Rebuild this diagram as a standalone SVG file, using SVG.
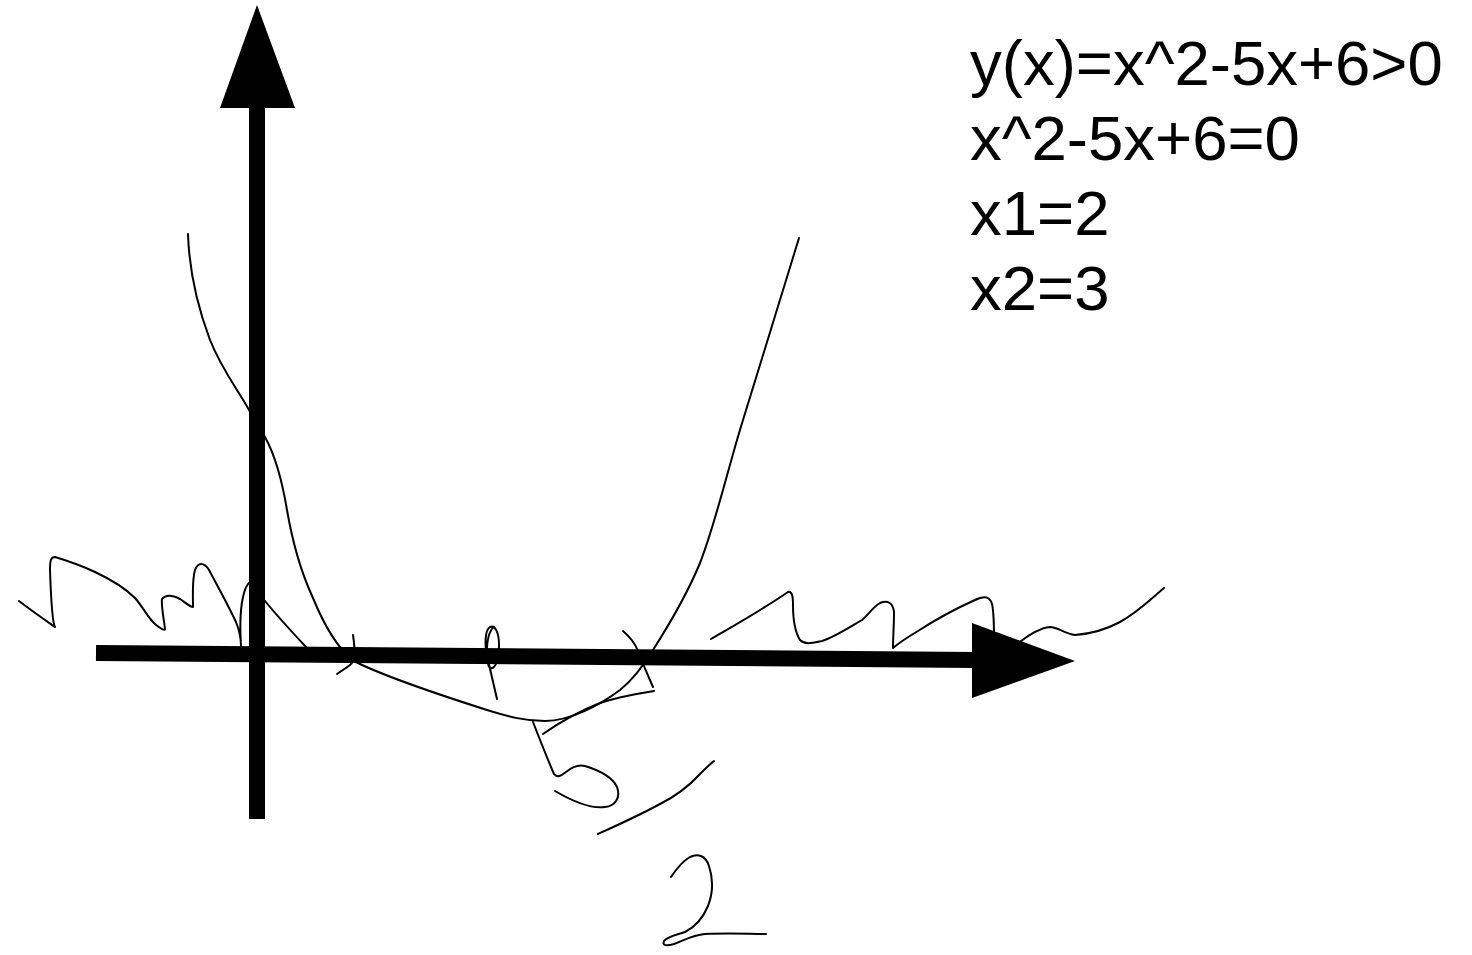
<svg xmlns="http://www.w3.org/2000/svg" width="1472" height="955" viewBox="0 0 1472 955">
<style>
.ink{fill:none;stroke:#000;stroke-width:2;stroke-linecap:round;stroke-linejoin:round}
.axis{stroke:#000;stroke-width:16;fill:none}
.head{fill:#000}
.eq{font-family:"Liberation Sans",Arial,sans-serif;font-size:63.5px;fill:#000}
</style>
<rect width="1472" height="955" fill="#fff"/>
<g id="sketch">
<path id="parabola" class="ink" d="M188,234 C189,265 195,300 210,340 C222,370 238,390 249,410 L265,437 C275,455 282,480 287,510 C293,545 300,570 313,598 C322,620 335,645 352,660 C380,675 440,695 487,710 C510,717 525,721 545,721 C570,721 600,705 620,690 C630,682 642,668 653,650 C667,628 686,597 700,563 C716,522 728,468 743,420 C760,365 780,300 799,238"/>
<path id="squiggle-left" class="ink" d="M19,601 C32,611 45,620 55,627 C52,622 51,600 50,570 C50,560 51,557 55,557 C65,560 80,565 95,572 C112,580 125,588 135,598 C143,607 148,618 155,624 C160,628 164,631 165,629 C164,620 161,605 162,599 C166,594 172,595 180,599 C186,603 190,607 193,607 C193,595 192,580 195,570 C198,562 204,562 209,570 C217,585 228,605 236,622 C240,632 241,640 241,646 C240,630 240,610 243,597 C245,588 247,584 250,582 L265,601 C278,617 292,632 306,647"/>
<path id="squiggle-right" class="ink" d="M711,639 C735,625 765,608 788,592 C792,591 793,596 793,605 C793,618 795,632 800,640 C805,645 812,643 822,641 C835,637 850,627 862,620 C868,615 873,607 880,603 C888,600 893,603 894,612 C894,625 893,638 893,648 C900,642 908,637 918,631 C935,620 955,609 975,600 C985,595 990,597 992,604 C994,612 994,622 994,640 M1016,645 C1027,636 1040,628 1050,627 C1058,627 1065,634 1075,635 C1090,634 1105,630 1120,622 C1138,612 1152,598 1164,588"/>
<path id="tick-x1" class="ink" d="M353,635 C355,648 356,660 350,665 C345,669 341,671 337,674"/>
<path id="tick-mid" class="ink" d="M497,699 C494,686 491,673 488,660 C484,645 485,630 490,627 C495,625 499,632 499,645 C499,660 495,670 490,668 C486,664 486,645 489,635 C491,630 493,627 494,627"/>
<path id="tick-x2" class="ink" d="M623,631 C630,637 635,643 638,651 C643,664 648,676 653,687"/>
<path id="bracket" class="ink" d="M654,691 C635,694 615,698 600,703 C580,711 560,722 543,734"/>
<path id="digit-5" class="ink" d="M533,722 C540,740 547,758 554,774 C557,778 561,776 566,772 C572,767 578,764 585,766 C598,770 612,776 617,787 C621,798 615,806 605,807 C590,809 572,801 555,791"/>
<path id="slash" class="ink" d="M598,834 C620,824 640,815 660,804 C678,795 690,785 700,774 C705,769 710,764 714,761"/>
<path id="digit-2" class="ink" d="M671,877 C677,868 683,861 690,857 C698,853 706,856 709,866 C713,878 713,893 708,906 C703,918 695,927 685,932 C677,935 668,936 664,941 C662,946 667,946 674,944 C685,940 692,935 705,934 C730,933 750,934 766,934"/>
</g>
<g id="axes">
<line class="axis" x1="257" y1="106" x2="257" y2="819"/>
<polygon class="head" points="257,5 220,108 295,108"/>
<line class="axis" x1="96" y1="653" x2="974" y2="660"/>
<polygon class="head" points="972,623 1075,661 972,698"/>
</g>
<g id="equations">
<text class="eq" x="970" y="85">y(x)=x^2-5x+6&gt;0</text>
<text class="eq" x="970" y="160">x^2-5x+6=0</text>
<text class="eq" x="970" y="235">x1=2</text>
<text class="eq" x="970" y="310">x2=3</text>
</g>
</svg>
